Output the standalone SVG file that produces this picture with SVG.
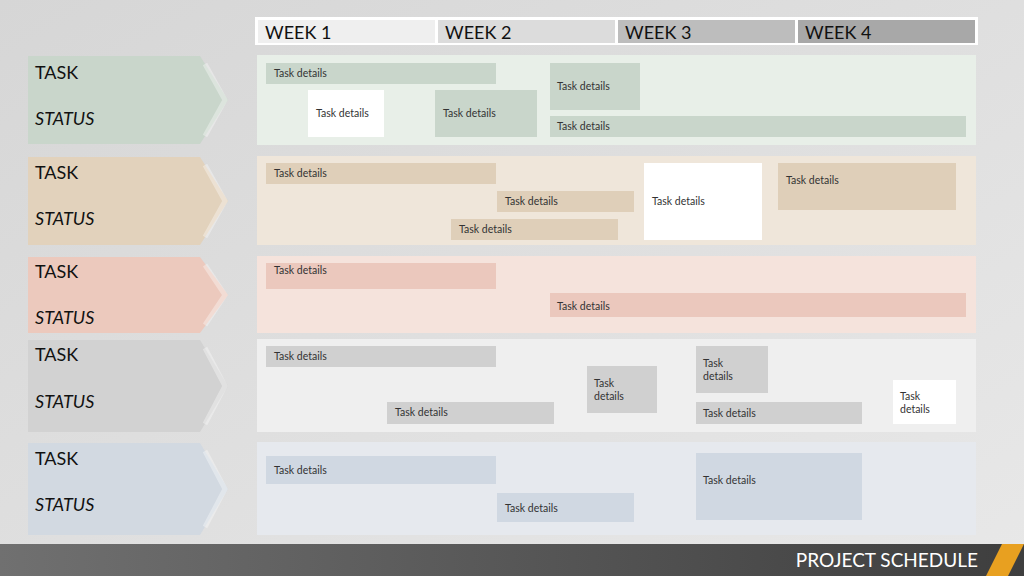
<svg xmlns="http://www.w3.org/2000/svg" width="1024" height="576" viewBox="0 0 1024 576">
<defs>
<linearGradient id="bg" x1="0" y1="0" x2="1" y2="1"><stop offset="0" stop-color="#d6d6d6"/><stop offset="1" stop-color="#e8e8e8"/></linearGradient>
<linearGradient id="ft" x1="0" y1="0" x2="1" y2="0"><stop offset="0" stop-color="#707070"/><stop offset="1" stop-color="#3e3e3e"/></linearGradient>
</defs>
<style>
.w{font-family:"Century Gothic","Lato","Liberation Sans",sans-serif;font-size:18px;fill:#111}
.l{font-family:"Century Gothic","Lato","Liberation Sans",sans-serif;font-size:18px;fill:#111}
.s{font-style:italic}
.t{font-family:"Century Gothic","Lato","Liberation Sans",sans-serif;font-size:10.5px;fill:#333}
.ch{fill:none;stroke:#fff;stroke-opacity:.35;stroke-width:5}
</style>
<rect width="1024" height="576" fill="url(#bg)"/>
<g id="weeks">
<rect x="255" y="17" width="723" height="28" fill="#fff"/>
<rect x="258" y="20" width="177" height="23" fill="#efefef"/>
<rect x="438" y="20" width="177" height="23" fill="#dcdcdc"/>
<rect x="618" y="20" width="177" height="23" fill="#bdbdbd"/>
<rect x="798" y="20" width="177" height="23" fill="#a8a8a8"/>
<text class="w" x="265" y="39">WEEK 1</text><text class="w" x="445" y="39">WEEK 2</text><text class="w" x="625" y="39">WEEK 3</text><text class="w" x="805" y="39">WEEK 4</text>
</g>
<g id="row1">
<path d="M28 56H200L228 100L200 144H28Z" fill="#c9d6cb"/><path class="ch" d="M205 64L225 100L205 136"/>
<text class="l" x="35" y="79">TASK</text><text class="l s" x="35" y="125">STATUS</text>
<rect x="257" y="55" width="719" height="90" fill="#e8efe8"/>
<rect x="266" y="63" width="230" height="21" fill="#c9d6cb"/><text class="t" x="274" y="77">Task details</text>
<rect x="550" y="63" width="90" height="47" fill="#c9d6cb"/><text class="t" x="557" y="90">Task details</text>
<rect x="308" y="90" width="76" height="47" fill="#fff"/><text class="t" x="316" y="117">Task details</text>
<rect x="435" y="90" width="102" height="47" fill="#c9d6cb"/><text class="t" x="443" y="117">Task details</text>
<rect x="550" y="116" width="416" height="21" fill="#c9d6cb"/><text class="t" x="557" y="130">Task details</text>
</g>
<g id="row2">
<path d="M28 157H200L228 201L200 245H28Z" fill="#e2d2bc"/><path class="ch" d="M205 165L225 201L205 237"/>
<text class="l" x="35" y="179">TASK</text><text class="l s" x="35" y="225">STATUS</text>
<rect x="257" y="156" width="719" height="89" fill="#efe6da"/>
<rect x="266" y="163" width="230" height="21" fill="#dfcfb9"/><text class="t" x="274" y="177">Task details</text>
<rect x="497" y="191" width="137" height="21" fill="#dfcfb9"/><text class="t" x="505" y="205">Task details</text>
<rect x="451" y="219" width="167" height="21" fill="#dfcfb9"/><text class="t" x="459" y="233">Task details</text>
<rect x="644" y="163" width="118" height="77" fill="#fff"/><text class="t" x="652" y="205">Task details</text>
<rect x="778" y="163" width="178" height="47" fill="#dfcfb9"/><text class="t" x="786" y="184">Task details</text>
</g>
<g id="row3">
<path d="M28 257H200L228 295L200 333H28Z" fill="#ecc9bd"/><path class="ch" d="M205 265L225 295L205 325"/>
<text class="l" x="35" y="278">TASK</text><text class="l s" x="35" y="324">STATUS</text>
<rect x="257" y="256" width="719" height="77" fill="#f5e3dc"/>
<rect x="266" y="263" width="230" height="26" fill="#ebc8bd"/><text class="t" x="274" y="274">Task details</text>
<rect x="550" y="293" width="416" height="24" fill="#ebc8bd"/><text class="t" x="557" y="310">Task details</text>
</g>
<g id="row4">
<path d="M28 340H200L228 386L200 432H28Z" fill="#d2d2d2"/><path class="ch" d="M205 348L225 386L205 424"/>
<text class="l" x="35" y="361">TASK</text><text class="l s" x="35" y="408">STATUS</text>
<rect x="257" y="339" width="719" height="93" fill="#efefef"/>
<rect x="266" y="346" width="230" height="21" fill="#d0d0d0"/><text class="t" x="274" y="360">Task details</text>
<rect x="587" y="366" width="70" height="47" fill="#d0d0d0"/><text class="t" x="594" y="387">Task</text><text class="t" x="594" y="400">details</text>
<rect x="696" y="346" width="72" height="47" fill="#d0d0d0"/><text class="t" x="703" y="367">Task</text><text class="t" x="703" y="380">details</text>
<rect x="387" y="402" width="167" height="22" fill="#d0d0d0"/><text class="t" x="395" y="416">Task details</text>
<rect x="696" y="402" width="166" height="22" fill="#d0d0d0"/><text class="t" x="703" y="417">Task details</text>
<rect x="893" y="380" width="63" height="44" fill="#fff"/><text class="t" x="900" y="400">Task</text><text class="t" x="900" y="413">details</text>
</g>
<g id="row5">
<path d="M28 443H200L228 489L200 535H28Z" fill="#d2d9e1"/><path class="ch" d="M205 451L225 489L205 527"/>
<text class="l" x="35" y="465">TASK</text><text class="l s" x="35" y="511">STATUS</text>
<rect x="257" y="442" width="719" height="93" fill="#e6e9ee"/>
<rect x="266" y="456" width="230" height="28" fill="#d0d8e2"/><text class="t" x="274" y="474">Task details</text>
<rect x="497" y="493" width="137" height="29" fill="#d0d8e2"/><text class="t" x="505" y="512">Task details</text>
<rect x="696" y="453" width="166" height="67" fill="#d0d8e2"/><text class="t" x="703" y="484">Task details</text>
</g>
<g id="footer">
<rect x="0" y="544" width="1024" height="32" fill="url(#ft)"/>
<path d="M1002 544H1024L1008 576H986Z" fill="#e8a020"/>
<text x="978" y="567" text-anchor="end" font-family="Century Gothic,Lato,Liberation Sans,sans-serif" font-size="19" fill="#fff">PROJECT SCHEDULE</text>
</g>
<g id="connectors"/>
</svg>
